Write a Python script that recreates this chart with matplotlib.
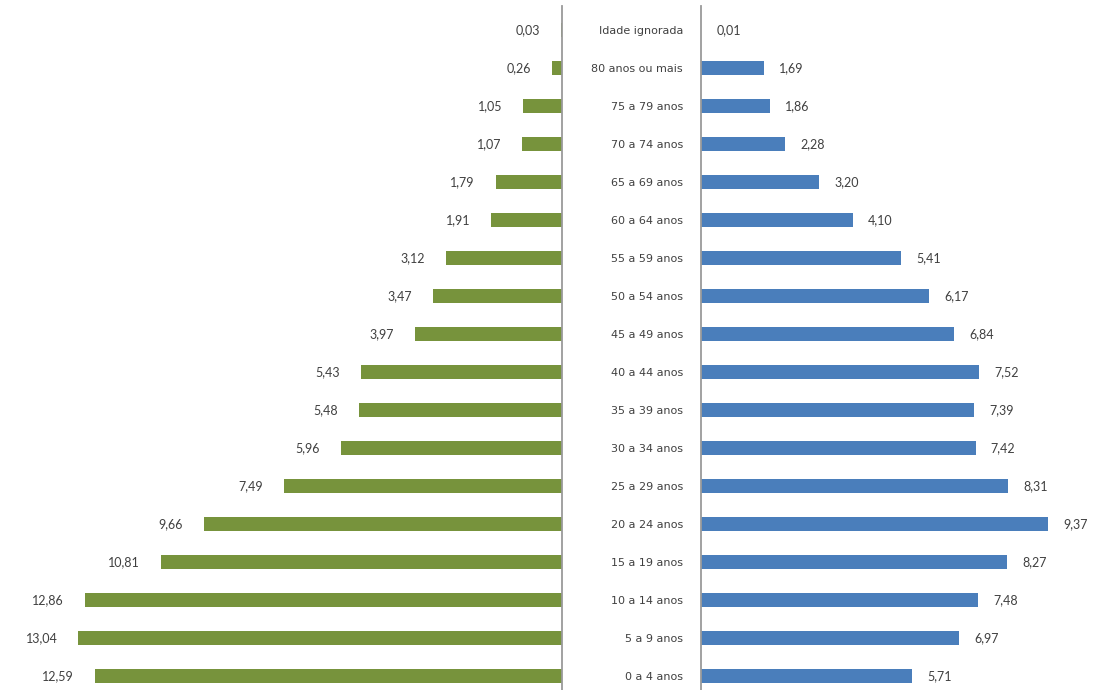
import matplotlib.pyplot as plt

faixas = ["0 a 4 anos", "5 a 9 anos", "10 a 14 anos", "15 a 19 anos", "20 a 24 anos",
          "25 a 29 anos", "30 a 34 anos", "35 a 39 anos", "40 a 44 anos", "45 a 49 anos",
          "50 a 54 anos", "55 a 59 anos", "60 a 64 anos", "65 a 69 anos", "70 a 74 anos",
          "75 a 79 anos", "80 anos ou mais", "Idade ignorada"]
verde = [12.59, 13.04, 12.86, 10.81, 9.66, 7.49, 5.96, 5.48, 5.43, 3.97,
         3.47, 3.12, 1.91, 1.79, 1.07, 1.05, 0.26, 0.03]
azul = [5.71, 6.97, 7.48, 8.27, 9.37, 8.31, 7.42, 7.39, 7.52, 6.84,
        6.17, 5.41, 4.10, 3.20, 2.28, 1.86, 1.69, 0.01]

plt.rcParams['font.family'] = ['Lato', 'DejaVu Sans']
cor_texto = '#404040'
cor_linha = '#9a9a9a'

fig = plt.figure(figsize=(11.05, 6.9), dpi=100)
H = 684 / 690
ax1 = fig.add_axes([0, 0, 562 / 1105, H])
ax2 = fig.add_axes([701 / 1105, 0, 404 / 1105, H])

y = list(range(len(faixas)))

ax1.barh(y, verde, height=0.37, color='#77933c')
ax1.set_xlim(562 / 37.1, 0)
for yi, v in zip(y, verde):
    ax1.annotate(f"{v:.2f}".replace('.', ','), (v, yi), xytext=(-15, 0),
                 textcoords='offset points', ha='right', va='center',
                 fontsize=9, color=cor_texto)

ax2.barh(y, azul, height=0.37, color='#4a7ebb')
ax2.set_xlim(0, 404 / 37)
for yi, v in zip(y, azul):
    ax2.annotate(f"{v:.2f}".replace('.', ','), (v, yi), xytext=(11, 0),
                 textcoords='offset points', ha='left', va='center',
                 fontsize=9, color=cor_texto)

for ax in (ax1, ax2):
    ax.set_ylim(-0.37, 17.64)
    ax.set_xticks([])
    for s in ax.spines.values():
        s.set_visible(False)

ax1.set_yticks([])
ax1.spines['right'].set_visible(True)
ax1.spines['right'].set_color(cor_linha)
ax1.spines['right'].set_linewidth(1.3)

ax2.set_yticks(y)
ax2.set_yticklabels(faixas, fontsize=8, color=cor_texto, family=['DejaVu Sans'])
ax2.tick_params(axis='y', length=0, pad=13)
ax2.spines['left'].set_visible(True)
ax2.spines['left'].set_color(cor_linha)
ax2.spines['left'].set_linewidth(1.3)

fig.savefig("out.png", dpi=100)
